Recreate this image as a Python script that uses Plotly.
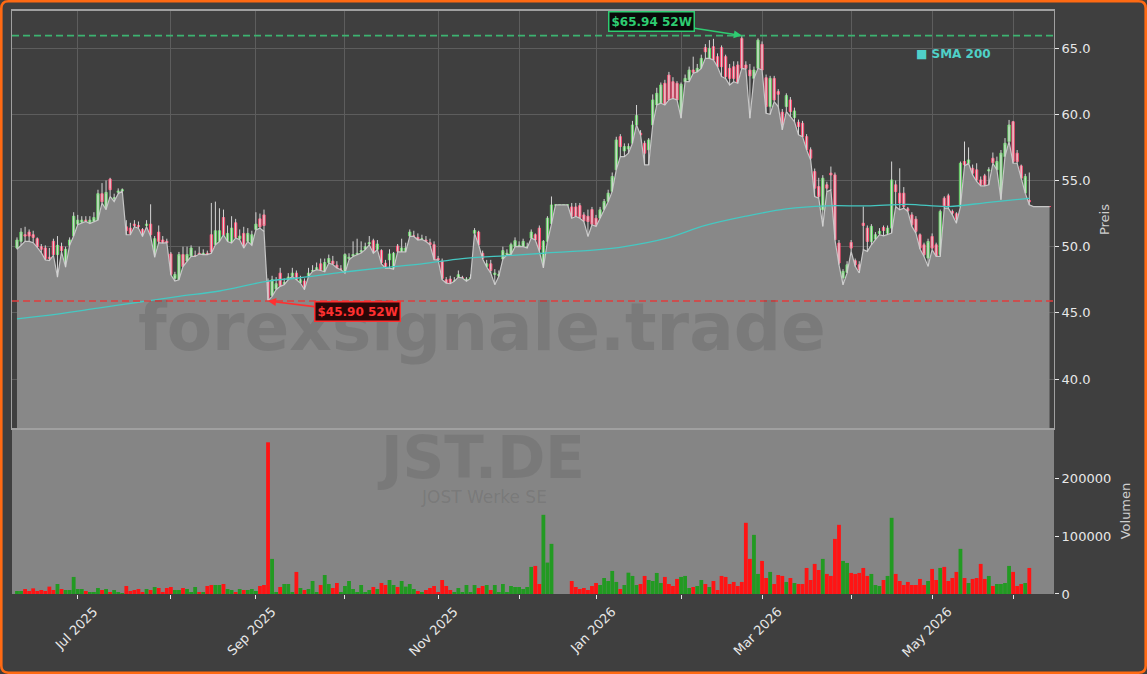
import pandas as pd
import plotly.graph_objects as go
from plotly.subplots import make_subplots

# ---------------- data ----------------
start_date, end_date = "2025-06-10", "2026-06-12"
holidays = ["2025-12-24", "2025-12-25", "2025-12-26", "2025-12-31",
            "2026-01-01", "2026-04-03", "2026-04-06", "2026-05-01"]
dates = [d.strftime("%Y-%m-%d") for d in pd.bdate_range(start_date, end_date)
         if d.strftime("%Y-%m-%d") not in holidays]

opens = [
    # Jun 2025
    49.9, 50.4, 50.9, 51.1, 50.9, 50.6, 50.0, 49.9, 49.2, 50.4, 49.4, 50.0, 48.5, 50.1, 50.8,
    # Jul
    51.7, 51.85, 52.0, 51.8, 51.9, 52.0, 54.0, 52.8, 55.1, 53.6, 54.1, 54.2, 51.5, 51.4, 51.7, 51.6,
    51.3, 51.6, 51.7, 49.2, 51.1, 50.5, 50.4,
    # Aug
    49.45, 47.6, 47.5, 49.4, 48.9, 49.3, 49.3, 49.5, 49.4, 49.5, 50.9, 50.15, 50.4, 52.2, 50.4, 50.3,
    51.8, 50.6, 51.0, 50.4, 50.1,
    # Sep
    51.3, 52.1, 52.4, 47.4, 46.3, 46.8, 48.0, 47.2, 47.5, 47.8, 48.0, 47.3, 47.4, 47.8, 48.15, 48.3,
    48.7, 48.1, 48.8, 48.9, 48.6, 48.3,
    # Oct
    48.0, 49.1, 49.3, 49.4, 49.6, 49.8, 50.2, 50.45, 49.8, 49.7, 48.75, 49.0, 48.3, 50.05, 49.65, 49.65,
    50.8, 50.8, 50.7, 50.6, 50.5, 50.3, 50.15,
    # Nov
    49.1, 48.9, 47.5, 47.55, 47.4, 47.7, 47.65, 47.38, 47.6, 51.02, 51.1, 49.5, 48.5, 48.7, 47.9, 47.8,
    49.06, 49.4, 49.4, 50.0,
    # Dec
    50.0, 50.0, 49.9, 50.65, 50.9, 51.4, 48.5, 50.4, 51.75, 53.15, 53.15, 53.15, 53.15, 53.0, 53.0, 53.1,
    52.4, 52.3, 52.8,
    # Jan 2026
    52.15, 52.15, 52.8, 53.41, 54.17, 55.8, 58.31, 57.23, 57.38, 57.81, 59.19, 58.57, 57.81, 57.31, 59.19,
    60.7, 60.83, 62.34, 62.96, 62.46, 62.34,
    # Feb
    59.7, 62.46, 62.59, 63.34, 63.22, 63.47, 65.03, 64.22, 65.1, 64.35, 65.03, 64.35, 63.47, 63.59, 63.72,
    65.73, 63.72, 63.34, 62.71, 63.47,
    # Mar
    65.28, 62.76, 60.58, 62.71, 61.71, 60.15, 60.58, 61.08, 59.75, 59.4, 59.32, 58.31, 57.31, 55.67, 54.54,
    52.78, 54.67, 55.55, 55.42, 50.27, 47.63, 48.06,
    # Apr
    50.32, 48.94, 48.63, 51.77, 51.4, 50.39, 50.57, 51.0, 51.45, 51.02, 51.4, 54.67, 54.04, 54.04, 52.86,
    52.4, 52.08, 50.9, 50.14, 49.14,
    # May
    50.77, 50.14, 49.39, 53.66, 53.84, 52.66, 52.48, 53.03, 56.43, 56.3, 55.92, 55.8, 55.04, 55.35, 55.72,
    56.68, 55.8, 53.54, 56.8, 57.94,
    # Jun 2026
    59.44, 57.06, 56.1, 54.04, 53.49, 53.03, 53.03, 53.03, 53.03, 53.03,
]
highs = [
    50.7, 51.4, 51.5, 51.3, 51.2, 50.7, 50.2, 50.1, 49.9, 50.6, 50.8, 50.3, 50.0, 50.7, 52.6,
    52.4, 52.3, 52.3, 52.3, 52.6, 54.3, 54.8, 55.0, 55.2, 54.0, 54.4, 54.4, 52.0, 51.8, 52.0, 51.9,
    51.4, 52.0, 53.2, 50.8, 51.6, 50.8, 50.6,
    49.6, 48.1, 49.6, 50.0, 50.0, 50.1, 49.7, 50.0, 49.8, 49.7, 53.3, 53.4, 52.9, 52.8, 51.6, 52.3,
    52.1, 51.3, 51.5, 51.4, 51.2,
    52.6, 52.5, 52.8, 47.6, 47.8, 47.7, 48.4, 47.6, 48.0, 48.4, 48.2, 47.8, 47.6, 48.4, 48.6, 48.8,
    49.1, 49.1, 49.4, 49.3, 48.9, 48.6,
    49.5, 49.5, 50.4, 50.6, 50.4, 50.3, 50.8, 50.6, 50.5, 49.8, 49.0, 49.8, 49.6, 50.2, 50.6, 50.3,
    51.3, 51.2, 51.0, 50.9, 50.8, 50.6, 50.4,
    49.3, 49.1, 47.7, 47.8, 47.7, 48.2, 47.8, 47.7, 47.9, 51.4, 51.2, 49.7, 49.0, 49.0, 48.3, 48.2,
    50.0, 49.8, 50.3, 50.7,
    50.4, 50.6, 50.3, 51.3, 51.0, 51.6, 50.5, 52.3, 53.79, 53.15, 53.15, 53.15, 53.15, 53.3, 53.3, 53.3,
    52.6, 52.8, 53.0,
    52.4, 53.0, 53.6, 54.3, 55.6, 58.3, 58.5, 57.8, 57.8, 59.5, 60.7, 58.8, 58.0, 58.2, 61.5,
    62.0, 62.4, 62.6, 63.2, 62.8, 62.5,
    62.4, 63.0, 63.6, 64.35, 63.8, 64.5, 65.3, 65.6, 65.7, 64.6, 65.2, 64.5, 63.8, 64.0, 64.0,
    65.94, 64.0, 63.8, 63.6, 65.73,
    65.5, 63.0, 62.9, 62.9, 61.9, 60.4, 61.58, 61.3, 60.5, 59.6, 59.5, 58.5, 57.5, 55.9, 55.2,
    55.4, 54.9, 56.05, 55.6, 50.5, 48.3, 48.9,
    50.5, 49.1, 48.9, 53.03, 51.6, 51.7, 51.1, 51.4, 51.6, 51.6, 56.43, 55.0, 55.92, 54.5, 53.0,
    52.6, 52.3, 51.0, 50.3, 50.6,
    51.0, 50.3, 52.8, 53.8, 54.0, 52.8, 52.6, 56.43, 57.94, 57.5, 56.2, 56.3, 55.3, 55.5, 56.0,
    57.11, 56.8, 57.3, 58.2, 59.57,
    59.5, 57.3, 56.2, 55.5, 55.6, 53.03, 53.03, 53.03, 53.03, 53.03,
]
lows = [
    49.8, 50.1, 50.4, 50.4, 50.3, 49.95, 49.55, 49.0, 48.95, 49.35, 47.7, 49.6, 48.45, 50.1, 50.8,
    51.65, 51.8, 51.9, 51.75, 51.9, 52.0, 53.3, 52.8, 53.8, 53.4, 54.0, 54.2, 50.9, 50.9, 51.5, 51.4,
    50.77, 51.5, 50.77, 49.2, 50.3, 50.27, 50.3,
    47.88, 47.4, 47.5, 48.5, 48.9, 49.26, 49.26, 49.44, 49.4, 49.4, 49.5, 50.14, 50.39, 50.9, 50.39, 50.27,
    50.65, 50.52, 49.89, 50.39, 50.1,
    51.27, 51.4, 51.15, 45.9, 46.25, 46.75, 47.0, 47.13, 47.5, 47.76, 47.5, 47.25, 46.75, 47.76, 48.13, 48.26,
    48.2, 48.1, 48.75, 48.65, 48.38, 48.26,
    48.0, 49.0, 49.26, 49.39, 49.52, 49.77, 50.14, 49.5, 49.77, 48.7, 48.38, 48.38, 48.3, 49.6, 49.6, 49.6,
    50.77, 50.77, 50.5, 50.55, 50.39, 50.14, 49.01,
    49.0, 47.5, 47.25, 47.2, 47.38, 47.7, 47.63, 47.38, 47.6, 51.0, 50.14, 49.06, 48.46, 48.0, 47.13, 47.76,
    49.06, 49.39, 49.39, 50.0,
    50.0, 50.0, 49.89, 50.65, 50.5, 49.65, 48.4, 50.39, 51.7, 53.15, 53.15, 53.15, 53.15, 52.15, 52.28, 52.15,
    51.9, 50.77, 51.65,
    51.53, 52.15, 52.78, 53.4, 54.17, 55.8, 56.8, 56.8, 57.06, 57.81, 59.19, 58.44, 56.18, 56.18, 59.19,
    60.7, 60.83, 60.7, 61.08, 61.2, 61.08,
    59.7, 62.46, 62.46, 63.1, 63.2, 63.47, 64.22, 64.22, 64.1, 63.59, 62.84, 62.71, 62.21, 62.46, 62.34,
    63.47, 63.4, 59.7, 62.71, 63.47,
    63.34, 60.07, 60.0, 60.95, 60.58, 58.82, 60.2, 59.82, 59.45, 58.44, 58.31, 57.31, 56.55, 53.79, 53.66,
    51.53, 54.16, 54.29, 50.52, 48.63, 47.12, 48.0,
    49.64, 48.51, 48.01, 49.77, 49.64, 50.14, 50.52, 50.9, 50.82, 50.9, 51.02, 53.03, 52.78, 52.91, 52.66,
    51.53, 51.02, 49.82, 49.26, 48.51,
    49.77, 49.26, 49.26, 52.91, 52.91, 52.4, 51.77, 53.03, 56.1, 56.3, 55.42, 54.92, 54.59, 54.59, 54.67,
    56.3, 55.8, 53.54, 56.8, 57.94,
    56.3, 56.3, 55.17, 54.04, 53.16, 53.03, 53.03, 53.03, 53.03, 53.03,
]
closes = [
    50.5, 51.1, 50.8, 50.8, 50.7, 50.0, 49.8, 49.1, 49.1, 49.4, 50.1, 49.7, 49.8, 50.5, 52.3,
    52.0, 52.0, 51.95, 52.0, 52.2, 54.0, 53.4, 54.1, 54.3, 53.7, 54.2, 54.3, 51.2, 51.0, 51.6, 51.5,
    50.8, 51.7, 50.9, 50.6, 50.4, 50.3, 50.3,
    47.9, 47.9, 49.4, 48.5, 49.4, 49.9, 49.3, 49.45, 49.5, 49.45, 49.6, 51.2, 51.2, 50.9, 51.0, 51.4,
    50.7, 50.8, 49.9, 51.0, 50.9,
    51.7, 51.5, 51.6, 46.0, 47.5, 47.2, 47.0, 47.3, 47.7, 48.0, 47.5, 47.5, 46.8, 48.0, 48.2, 48.4,
    48.2, 48.8, 49.1, 48.7, 48.4, 48.3,
    49.4, 49.2, 49.4, 49.5, 49.7, 50.0, 50.3, 49.5, 50.2, 48.8, 48.45, 49.45, 49.5, 49.65, 49.9, 49.9,
    51.1, 50.8, 50.5, 50.6, 50.4, 50.15, 49.05,
    49.0, 47.6, 47.25, 47.25, 47.4, 47.88, 47.65, 47.55, 47.65, 51.22, 50.15, 49.1, 48.7, 48.2, 48.0, 47.9,
    49.7, 49.5, 50.15, 50.45,
    50.1, 50.4, 50.0, 51.1, 50.5, 49.8, 50.4, 52.15, 53.15, 53.15, 53.15, 53.15, 53.15, 52.3, 52.3, 52.2,
    51.95, 51.9, 51.7,
    51.6, 52.78, 53.41, 54.04, 55.3, 58.06, 57.56, 57.56, 57.56, 59.19, 59.9, 58.44, 57.06, 58.06, 61.08,
    61.58, 62.21, 60.7, 61.08, 61.2, 61.08,
    62.26, 62.71, 63.34, 63.17, 63.47, 64.22, 64.72, 64.98, 64.1, 63.59, 63.59, 62.84, 62.71, 62.71, 62.34,
    63.47, 63.47, 62.9, 63.34, 65.6,
    63.34, 60.58, 62.71, 61.08, 61.51, 59.19, 61.41, 60.2, 60.25, 59.07, 58.31, 57.31, 56.68, 54.42, 53.79,
    55.17, 54.42, 55.42, 50.52, 48.76, 48.13, 48.63,
    49.89, 48.63, 48.26, 51.6, 50.39, 51.53, 50.9, 51.15, 51.22, 51.4, 55.04, 54.16, 53.29, 53.03, 52.71,
    51.65, 51.15, 49.89, 49.39, 50.39,
    49.89, 49.26, 52.66, 53.03, 53.03, 52.53, 52.08, 56.3, 56.18, 56.55, 55.55, 55.04, 54.67, 54.67, 55.8,
    56.35, 56.43, 57.06, 57.81, 59.19,
    56.43, 56.43, 55.17, 55.3, 53.39, 53.03, 53.03, 53.03, 53.03, 53.03,
]
volumes = [
    5200, 5200, 8700, 5200, 9800, 5200, 7000, 5200, 12800, 7000, 17400, 8700, 7000, 7000, 29600,
    8700, 8700, 5200, 3500, 3500, 10400, 7000, 8700, 3500, 7000, 3500, 1500, 13900, 5200, 7000, 8700,
    2000, 8700, 7000, 12200, 10400, 3500, 10400,
    12200, 7000, 7000, 10400, 8700, 3500, 12200, 2000, 3500, 13900, 15650, 15650, 15650, 17400, 8700, 7000,
    3500, 8700, 7000, 7000, 8700,
    5200, 13900, 15650, 263200, 60900, 3000, 12200, 17400, 17400, 2000, 38300, 10400, 7000, 8700, 22600, 2000,
    15650, 33000, 17400, 10400, 19100, 2000,
    13900, 22600, 8700, 2000, 15650, 2000, 7000, 12200, 8700, 19100, 15650, 24300, 15650, 12200, 22600, 12800,
    17400, 8700, 5200, 2000, 7000, 10400, 13900,
    2000, 24300, 13900, 7000, 2000, 10400, 2000, 15650, 2000, 15650, 10400, 13900, 15650, 7000, 15650, 2000,
    17400, 2000, 13900, 12200,
    12200, 8700, 12200, 47000, 48700, 17400, 137400, 54500, 87000, 0, 0, 0, 0, 22600, 12200, 8700,
    10400, 7000, 13900,
    19100, 15650, 27800, 22600, 40000, 20900, 8700, 15650, 37000, 31300, 15650, 17400, 31300, 24300, 22600,
    36500, 19100, 29600, 17400, 13900, 26100,
    29600, 31300, 10400, 12200, 13900, 24300, 17400, 12200, 22600, 7000, 31300, 29600, 17400, 20900, 13900,
    20900, 123500, 60900, 102600, 34800,
    57400, 27800, 38300, 17400, 33000, 31300, 20900, 27800, 19100, 17400, 17400, 45200, 24300, 52200, 41700,
    60900, 34800, 31300, 95600, 120000, 57400, 53900,
    36500, 34800, 36500, 45200, 31300, 34800, 15650, 13900, 24300, 31300, 132200, 34800, 22600, 15650, 20900,
    15650, 15650, 26100, 15650, 22600,
    43500, 24300, 45200, 47000, 22600, 27800, 38300, 78300, 27800, 19100, 26100, 27800, 52200, 26100, 31300,
    13900, 17400, 17400, 19100, 48700,
    38300, 13900, 17400, 19100, 45200, 0, 0, 0, 0, 0,
]

sma_dates = ["2025-06-10", "2025-06-24", "2025-07-08", "2025-07-22", "2025-08-05", "2025-08-19",
             "2025-09-04", "2025-09-16", "2025-09-30", "2025-10-14", "2025-10-28", "2025-11-11",
             "2025-11-25", "2025-12-09", "2026-01-02", "2026-01-13", "2026-01-27", "2026-02-10",
             "2026-02-24", "2026-03-10", "2026-03-24", "2026-04-09", "2026-04-23", "2026-05-08",
             "2026-05-22", "2026-06-05"]
sma_values = [44.55, 44.9, 45.35, 45.8, 46.25, 46.65, 47.4, 47.65, 48.05, 48.4, 48.7, 49.1,
              49.3, 49.5, 49.75, 50.0, 50.6, 51.6, 52.3, 52.85, 53.08, 53.08, 53.2, 53.03,
              53.35, 53.65]

high_52w, high_52w_date = 65.94, "2026-02-23"
low_52w, low_52w_date = 45.90, "2025-09-04"

tick_labels = ["Jul 2025", "", "Sep 2025", "", "Nov 2025", "", "Jan 2026", "",
               "Mar 2026", "", "May 2026", ""]
price_ticks = [40, 45, 50, 55, 60, 65]
volume_ticks = [0, 100000, 200000]

# first trading day of each month (after the first, partial month)
tick_vals = []
seen = set()
for d in dates:
    if d[:7] not in seen:
        seen.add(d[:7])
        tick_vals.append(d)
tick_vals = tick_vals[1:]

vol_colors = ["#229a22" if c >= o else "#ff1414" for o, c in zip(opens, closes)]

# wick segments (high-low) drawn in light grey, bodies drawn by the candlestick trace
wick_x, wick_y = [], []
for d, h, l in zip(dates, highs, lows):
    wick_x += [d, d, None]
    wick_y += [l, h, None]
body_hi = [max(o, c) for o, c in zip(opens, closes)]
body_lo = [min(o, c) for o, c in zip(opens, closes)]

# ---------------- figure ----------------
W, H = 1147, 674
ML, MR, MT, MB = 12, 93, 11, 80
split = 0.2847

fig = make_subplots(rows=2, cols=1, shared_xaxes=True, vertical_spacing=0,
                    row_heights=[1 - split, split])

fig.add_trace(go.Scatter(x=dates, y=lows, mode="lines", line=dict(color="#c6c6c6", width=1.2),
                         fill="tozeroy", fillcolor="#888888", hoverinfo="skip"), row=1, col=1)
fig.add_trace(go.Scatter(x=wick_x, y=wick_y, mode="lines", line=dict(color="#d4d4d4", width=1),
                         hoverinfo="skip", connectgaps=False), row=1, col=1)
fig.add_trace(go.Candlestick(
    x=dates, open=opens, high=body_hi, low=body_lo, close=closes,
    increasing=dict(line=dict(color="#62d162", width=1), fillcolor="#b3e6b3"),
    decreasing=dict(line=dict(color="#ff4a70", width=1), fillcolor="#ff9bb0"),
    whiskerwidth=0), row=1, col=1)
fig.add_trace(go.Scatter(x=sma_dates, y=sma_values, mode="lines",
                         line=dict(color="#45c8c2", width=1.3, shape="spline")), row=1, col=1)
fig.add_trace(go.Bar(x=dates, y=volumes, marker=dict(color=vol_colors, line=dict(width=0))), row=2, col=1)

axis_font = dict(family="DejaVu Sans", size=13, color="#e8e8e8")
grid_c = "#5d5d5d"
xr = [-1.23, 256.1]

fig.update_xaxes(type="category", range=xr, tickvals=tick_vals, automargin=False,
                 rangeslider=dict(visible=False))
fig.update_layout(
    xaxis=dict(showticklabels=False, showgrid=True, gridcolor=grid_c, gridwidth=1,
               showline=True, linecolor="#a0a0a0", linewidth=1.5, mirror=True, ticks=""),
    xaxis2=dict(ticktext=tick_labels, tickangle=-45, ticks="outside", ticklen=4, tickcolor="#e8e8e8",
                showgrid=False, showline=False, tickfont=axis_font, ticklabelshift=16),
    yaxis=dict(side="right", range=[36.3, 67.8], tickvals=price_ticks,
               ticktext=[f"{v:.1f}" for v in price_ticks], tickfont=axis_font,
               ticks="outside", ticklen=4, tickcolor="#e8e8e8", showgrid=True, gridcolor=grid_c,
               showline=True, linecolor="#a0a0a0", linewidth=1, mirror=True, zeroline=False,
               automargin=False,
               title=dict(text="Preis", font=dict(family="DejaVu Sans", size=13, color="#cfcfcf"), standoff=10)),
    yaxis2=dict(side="right", range=[0, 288000], tickvals=volume_ticks,
                ticktext=[str(v) for v in volume_ticks], tickfont=axis_font,
                ticks="outside", ticklen=4, tickcolor="#e8e8e8", showgrid=False, zeroline=False,
                showline=False, automargin=False,
                title=dict(text="Volumen", font=dict(family="DejaVu Sans", size=13, color="#cfcfcf"), standoff=10)),
    width=W, height=H, margin=dict(l=ML, r=MR, t=MT, b=MB),
    paper_bgcolor="#3f3f3f", plot_bgcolor="#3f3f3f",
    showlegend=False, bargap=0.06, boxgap=0.2, font=dict(family="DejaVu Sans"),
)

pw, ph = W - ML - MR, H - MT - MB
def px(xpx):
    return (xpx - ML) / pw
def py(ypx):
    return (H - MB - ypx) / ph

shapes = [
    dict(type="rect", xref="paper", yref="paper", x0=0, x1=1, y0=0, y1=split,
         fillcolor="#858585", line=dict(width=0), layer="below"),
    dict(type="line", xref="paper", yref="y", x0=0, x1=1, y0=high_52w, y1=high_52w,
         line=dict(color="#3cb371", width=1.6, dash="7px,4px")),
    dict(type="line", xref="paper", yref="y", x0=0, x1=1, y0=low_52w, y1=low_52w,
         line=dict(color="#e03c3c", width=1.6, dash="7px,4px")),
]
# orange frame around the whole figure
x0, x1, y0, y1 = px(1.3), px(W - 1.3), py(H - 1.3), py(1.3)
rx, ry = 7 / pw, 7 / ph
path = (f"M {x0+rx},{y1} L {x1-rx},{y1} Q {x1},{y1} {x1},{y1-ry} L {x1},{y0+ry} "
        f"Q {x1},{y0} {x1-rx},{y0} L {x0+rx},{y0} Q {x0},{y0} {x0},{y0+ry} "
        f"L {x0},{y1-ry} Q {x0},{y1} {x0+rx},{y1} Z")
shapes.append(dict(type="path", xref="paper", yref="paper", path=path,
                   line=dict(color="#ff6a13", width=2.6)))
fig.update_layout(shapes=shapes)

annotations = [
    dict(text="<b>forexsignale.trade</b>", xref="paper", yref="paper", x=px(482), y=py(327),
         showarrow=False, font=dict(family="DejaVu Sans", size=66, color="rgba(45,45,45,0.15)"),
         xanchor="center", yanchor="middle"),
    dict(text="<b>JST.DE</b>", xref="paper", yref="paper", x=px(481), y=py(458),
         showarrow=False, font=dict(family="DejaVu Sans", size=58, color="rgba(45,45,45,0.13)"),
         xanchor="center", yanchor="middle"),
    dict(text="JOST Werke SE", xref="paper", yref="paper", x=px(484), y=py(497),
         showarrow=False, font=dict(family="DejaVu Sans", size=17, color="rgba(45,45,45,0.14)"),
         xanchor="center", yanchor="middle"),
    dict(text="<b>■ SMA 200</b>", xref="paper", yref="paper", x=px(953), y=py(54),
         showarrow=False, font=dict(family="DejaVu Sans", size=12, color="#4fd1c8"),
         xanchor="center", yanchor="middle"),
    dict(text=f"<b>${high_52w:.2f} 52W</b>", xref="x", yref="y", x=high_52w_date, y=high_52w,
         ax=-90, ay=-14, showarrow=True, arrowhead=2, arrowsize=1, arrowwidth=1.6,
         arrowcolor="#2ecc71", font=dict(family="DejaVu Sans", size=12, color="#2ecc71"),
         bgcolor="#0a0a0a", bordercolor="#2ecc71", borderwidth=1.5, borderpad=2),
    dict(text=f"<b>${low_52w:.2f} 52W</b>", xref="x", yref="y", x=low_52w_date, y=low_52w,
         ax=89, ay=11, showarrow=True, arrowhead=2, arrowsize=1, arrowwidth=1.6,
         arrowcolor="#ff3030", font=dict(family="DejaVu Sans", size=12, color="#ff3030"),
         bgcolor="#2a0707", bordercolor="#ff3030", borderwidth=1.5, borderpad=2),
]
fig.update_layout(annotations=annotations)

fig.write_html("out.html")
